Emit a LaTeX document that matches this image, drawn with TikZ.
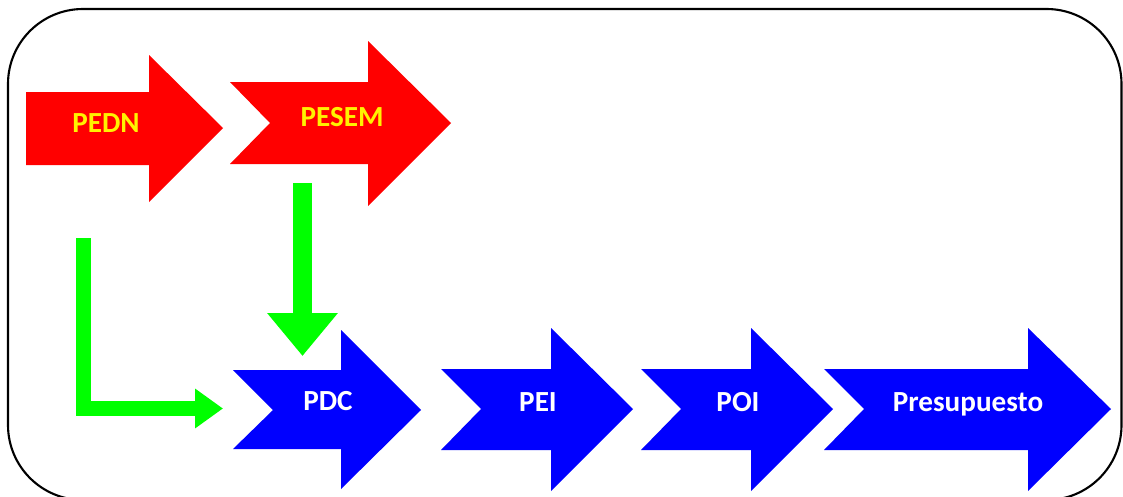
\documentclass[tikz,border=0pt]{standalone}
\usepackage{fontspec}
\setmainfont{Carlito}
\usepackage{tikz}
\usetikzlibrary{arrows.meta}
\tikzset{
  lbl/.style={font=\bfseries\fontsize{16.6}{18}\selectfont, inner sep=0pt, anchor=base},
  lblred/.style={lbl, text=yellow},
  lblblue/.style={lbl, text=white},
  greenarrow/.style={draw=green, line cap=butt, line join=miter}
}

\begin{document}
\begin{tikzpicture}[line cap=round,line join=round,x=0.02cm,y=-0.02cm]
        \useasboundingbox (0,0) rectangle (1123,497);
        \clip (0,0) rectangle (1123,497);
        \draw [line width=1.2pt, rounded corners=1.5cm] (8,9) rectangle (1121.5,500);
        % upper row
        \fill [color=red] (26,92) -- (149,92) -- (149,55) -- (223,128) -- (149,202) -- (149,165) -- (26,165) -- cycle;
        \fill [color=red] (230,82) -- (368,82) -- (368,41) -- (451,123) -- (368,206) -- (368,164) -- (230,164) -- (270,123) -- cycle;
        \node [lblred] (pedn) at (106,132) {PEDN};
        \node [lblred] (pesem) at (342,126) {PESEM};
        % lower row
        \fill [color=blue] (233,370) -- (341,370) -- (341,330) -- (421,410) -- (341,489) -- (341,449) -- (233,449) -- (273,410) -- cycle;
        \fill [color=blue] (441,369) -- (551,369) -- (551,328) -- (633,409) -- (551,491) -- (551,450) -- (441,450) -- (481,409) -- cycle;
        \fill [color=blue] (641,369) -- (751,369) -- (751,328) -- (833,409) -- (751,491) -- (751,450) -- (641,450) -- (681,409) -- cycle;
        \fill [color=blue] (824,369) -- (1028,369) -- (1028,328) -- (1111,409) -- (1028,491) -- (1028,450) -- (824,450) -- (864,409) -- cycle;
        \node [lblblue] (pdc) at (328,410) {PDC};
        \node [lblblue] (pei) at (538,411) {PEI};
        \node [lblblue] (poi) at (738,411) {POI};
        \node [lblblue] (ppto) at (968,411) {Presupuesto};
        % green links
        \coordinate (pesemfoot) at (302.5,183);
        \coordinate (pdctop) at (302.5,356);
        \coordinate (pednfoot) at (83.5,238);
        \coordinate (pdcin) at (223,408.5);
        \draw [greenarrow, line width=0.38cm, -{Triangle[length=0.86cm,width=1.36cm]}] (pesemfoot) -- (pdctop);
        \draw [greenarrow, line width=0.3cm, -{Triangle[length=0.56cm,width=0.76cm]}] (pednfoot) |- (pdcin);
    \end{tikzpicture}
\end{document}
